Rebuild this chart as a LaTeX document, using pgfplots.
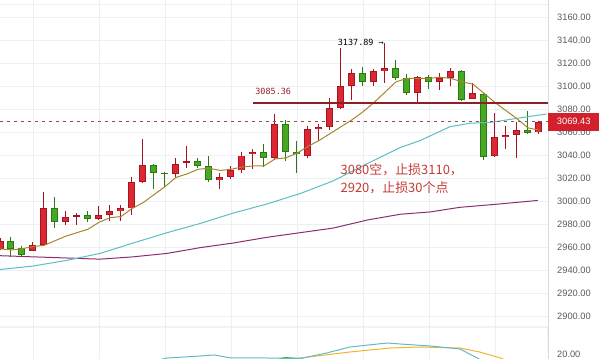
\documentclass[border=0pt]{standalone}
\usepackage{pgfplots}
\pgfplotsset{compat=1.18}
\usepackage{pgfplotstable}
\usepackage{fontspec}
\setmainfont{Liberation Sans}
\newfontfamily\cjk{Noto Sans CJK SC}
\newfontfamily\mono{DejaVu Sans Mono}

\definecolor{upfill}{RGB}{220,40,50}
\definecolor{upedge}{RGB}{165,20,32}
\definecolor{dnfill}{RGB}{72,168,36}
\definecolor{dnedge}{RGB}{42,122,20}
\definecolor{gridc}{RGB}{236,239,243}
\definecolor{borderc}{RGB}{214,217,222}
\definecolor{goldma}{RGB}{168,132,50}
\definecolor{tealma}{RGB}{95,188,198}
\definecolor{purpma}{RGB}{140,45,112}
\definecolor{resline}{RGB}{145,30,35}
\definecolor{annot}{RGB}{196,58,52}
\definecolor{ticktext}{RGB}{90,90,90}
\definecolor{lastbox}{RGB}{210,32,44}
\definecolor{lastdash}{RGB}{150,75,75}
\definecolor{kyellow}{RGB}{240,180,50}
\definecolor{kgreen}{RGB}{80,170,60}

% rising candles (red)
\pgfplotstableread{
i o h l c
0 2959 2968 2958 2966
3 2957 2965 2957 2962
4 2962 3008 2962 2994
6 2982 2992 2980 2987
7 2987 2990 2980 2988
9 2985 2996 2984 2988
10 2988 2997 2983 2992
11 2992 2997 2983 2994
12 2994 3021 2988 3017
13 3017 3054 3016 3032
16 3024 3038 3021 3033
17 3034 3048 3029 3035
20 3019 3025 3011 3021
21 3021 3031 3020 3027
22 3027 3043 3025 3040
23 3041 3046 3028 3043
25 3038 3076 3036 3067
28 3040 3066 3038 3063
29 3063 3067 3053 3065
30 3065 3090 3062 3081
31 3081 3133 3080 3100
32 3100 3115 3088 3112
34 3104 3115 3100 3113
35 3113 3137.89 3103 3116
38 3094 3109 3086 3108
40 3104 3112 3097 3107
41 3107 3116 3100 3113
43 3089 3103 3089 3094
45 3040 3077 3039 3056
46 3056 3066 3046 3058
47 3058 3069 3038 3062
49 3060 3070 3059 3069.43
}\up

% falling candles (green)
\pgfplotstableread{
i o h l c
1 2966 2969 2952 2959
2 2960 2961 2953 2954
5 2994 3004 2977 2982
8 2988 2992 2982 2985
14 3032 3033 3011 3025
15 3025 3026 3013 3024
18 3035 3038 3029 3031
19 3031 3040 3017 3019
24 3043 3050 3030 3038
26 3067 3071 3035 3043
27 3043 3053 3025 3041
33 3112 3117 3100 3104
36 3116 3123 3106 3107
37 3107 3111 3093 3094
39 3108 3110 3098 3104
42 3113 3114 3087 3088
44 3093 3094 3036 3039
48 3062 3079 3059 3060
}\dn

% short moving average (gold)
\pgfplotstableread{
i v
0 2959
1 2958
2 2959
3 2961
4 2962
5 2966
6 2970
7 2973
8 2976
9 2982
10 2986
11 2987
12 2994
13 2999
14 3006
15 3013
16 3021
17 3024
18 3028
19 3029
20 3027
21 3028
22 3030
23 3031
24 3031
25 3037
26 3038
27 3042
28 3048
29 3053
30 3059
31 3065
32 3071
33 3078
34 3086
35 3095
36 3104
37 3107
38 3107
39 3107
40 3108
41 3107
42 3104
43 3102
44 3094
45 3086
46 3079
47 3072
48 3064
49 3062
}\maG

% middle moving average (teal)
\pgfplotstableread{
i v
0 2941
3 2944
6.1 2949
9.1 2955
12.1 2964
15.2 2973
18.2 2981
21.2 2990
24.3 2998
27.3 3007
30.3 3018
33.4 3033
36.4 3047
38.2 3053
40.9 3065
42.7 3068
44.8 3069
46.8 3072
48.9 3075
49.7 3076
}\maT

% long moving average (purple)
\pgfplotstableread{
i v
0 2953
3 2952
6.1 2951
9.1 2950
12.1 2952
15.2 2955
18.2 2960
21.2 2964
24.3 2969
27.3 2973
30.3 2977
33.4 2984
36.4 2989
39.1 2991
41.8 2995
45.5 2998
48.9 3001
}\maP

\newcommand{\candles}[3]{%
  \addplot[draw=none, no markers, forget plot,
    error bars/.cd, y dir=both, y explicit, error mark=none,
    error bar style={line width=1bp, draw=#2}]
    table[x=i, y expr={(\thisrow{h}+\thisrow{l})/2},
          y error expr={(\thisrow{h}-\thisrow{l})/2}] {#1};
  \addplot[draw=none, no markers, forget plot,
    error bars/.cd, y dir=both, y explicit, error mark=none,
    error bar style={line width=7bp, draw=#2}]
    table[x=i, y expr={(\thisrow{o}+\thisrow{c})/2},
          y error expr={max(abs(\thisrow{c}-\thisrow{o})/2,0.6)}] {#1};
  \addplot[draw=none, no markers, forget plot,
    error bars/.cd, y dir=both, y explicit, error mark=none,
    error bar style={line width=5bp, draw=#3}]
    table[x=i, y expr={(\thisrow{o}+\thisrow{c})/2},
          y error expr={max(abs(\thisrow{c}-\thisrow{o})/2-0.85,0)}] {#1};
}

\begin{document}
\begin{tikzpicture}
\useasboundingbox (0,0) rectangle (600bp,359bp);

% ---------- main price panel ----------
\begin{axis}[
  at={(0,32bp)}, anchor=south west,
  scale only axis, width=548bp, height=327bp,
  xmin=0, xmax=49.82, ymin=2891, ymax=3175,
  clip mode=individual,
  axis line style={draw=none},
  major tick length=0pt,
  xtick={3,9,...,45}, xticklabels={},
  ytick={2900,2920,...,3160},
  xmajorgrids, ymajorgrids,
  grid style={draw=gridc, line width=0.8bp},
  yticklabel pos=right,
  yticklabel style={font=\fontsize{9.3}{10}\selectfont, text=ticktext,
    anchor=west, inner sep=0pt, xshift=9bp,
    /pgf/number format/fixed, /pgf/number format/fixed zerofill,
    /pgf/number format/precision=2, /pgf/number format/1000 sep={},
    /pgf/number format/assume math mode=true},
]
\draw[gridc, line width=0.8bp] (rel axis cs:0,0.988) -- (rel axis cs:1,0.988);

\candles{\up}{upedge}{upfill}
\candles{\dn}{dnedge}{dnfill}

\addplot[purpma, line width=1bp, forget plot] table[x=i, y=v] {\maP};
\addplot[tealma, line width=1bp, forget plot] table[x=i, y=v] {\maT};
\addplot[goldma, line width=1bp, forget plot] table[x=i, y=v] {\maG};

\addplot[resline, line width=1.6bp, forget plot] coordinates {(23,3085.36) (49.82,3085.36)};
\addplot[lastdash, line width=0.9bp, dash pattern=on 3bp off 4bp, forget plot]
  coordinates {(0,3069.43) (49.82,3069.43)};

\draw[borderc, line width=0.8bp] (rel axis cs:1,0) -- (rel axis cs:1,1);
\draw[borderc, line width=0.8bp] (rel axis cs:0,0) -- (rel axis cs:1,0) -- ++(52bp,0);

\node[font=\mono\fontsize{8.5}{9}\selectfont, text=resline, anchor=west, inner sep=0pt]
  at (axis cs:23.2,3096) {3085.36};
\node[font=\mono\fontsize{8.5}{9}\selectfont, text=black, anchor=west, inner sep=0pt]
  at (axis cs:30.7,3138.5) {3137.89 →};

\node[font=\cjk\fontsize{13}{16}\selectfont, text=annot, anchor=base west, inner sep=0pt]
  at (axis cs:30.95,3023.5) {3080空，止损3110，};
\node[font=\cjk\fontsize{13}{16}\selectfont, text=annot, anchor=base west, inner sep=0pt]
  at (axis cs:30.95,3007.8) {2920，止损30个点};

\node[fill=lastbox, text=white, font=\fontsize{9.3}{10}\selectfont, anchor=west,
  minimum width=51bp, minimum height=18bp, inner sep=0pt]
  at (axis cs:49.82,3069.43) {3069.43};
\draw[white, line width=1bp] (axis cs:49.82,3069.43) ++(1.5bp,0) -- ++(5bp,0);
\end{axis}

% ---------- indicator panel (cut off) ----------
\begin{axis}[
  at={(0,0)}, anchor=south west,
  scale only axis, width=548bp, height=32bp,
  xmin=0, xmax=49.82, ymin=17, ymax=49,
  clip mode=individual,
  axis line style={draw=none},
  major tick length=0pt,
  xtick={3,9,...,45}, xticklabels={},
  ytick={20},
  xmajorgrids,
  grid style={draw=gridc, line width=0.8bp},
  yticklabel pos=right,
  yticklabel style={font=\fontsize{9.3}{10}\selectfont, text=ticktext,
    anchor=west, inner sep=0pt, xshift=9bp, yshift=2bp,
    /pgf/number format/fixed, /pgf/number format/fixed zerofill,
    /pgf/number format/precision=2, /pgf/number format/1000 sep={},
    /pgf/number format/assume math mode=true},
]
\addplot[kgreen, line width=1bp, forget plot] coordinates {
  (24.5,14) (25.9,18.5) (27.3,17.5) (28.5,14)};
\addplot[kyellow, line width=1bp, forget plot] coordinates {
  (25.5,14) (27.3,18) (31.8,24) (35.5,28) (38.2,29) (41.8,28) (43.6,24) (45.5,18) (46.4,14)};
\addplot[tealma, line width=1bp, forget plot] coordinates {
  (13.6,14) (15.2,18) (18.2,20) (19.5,21) (21,18) (24.3,18) (27.3,17.5) (29.7,23)
  (31.8,29) (35.2,33) (36.4,32) (39.1,30) (41.8,27) (43.4,18) (44.5,10)};
\draw[borderc, line width=0.8bp] (rel axis cs:1,0) -- (rel axis cs:1,1);
\end{axis}
\end{tikzpicture}
\end{document}
